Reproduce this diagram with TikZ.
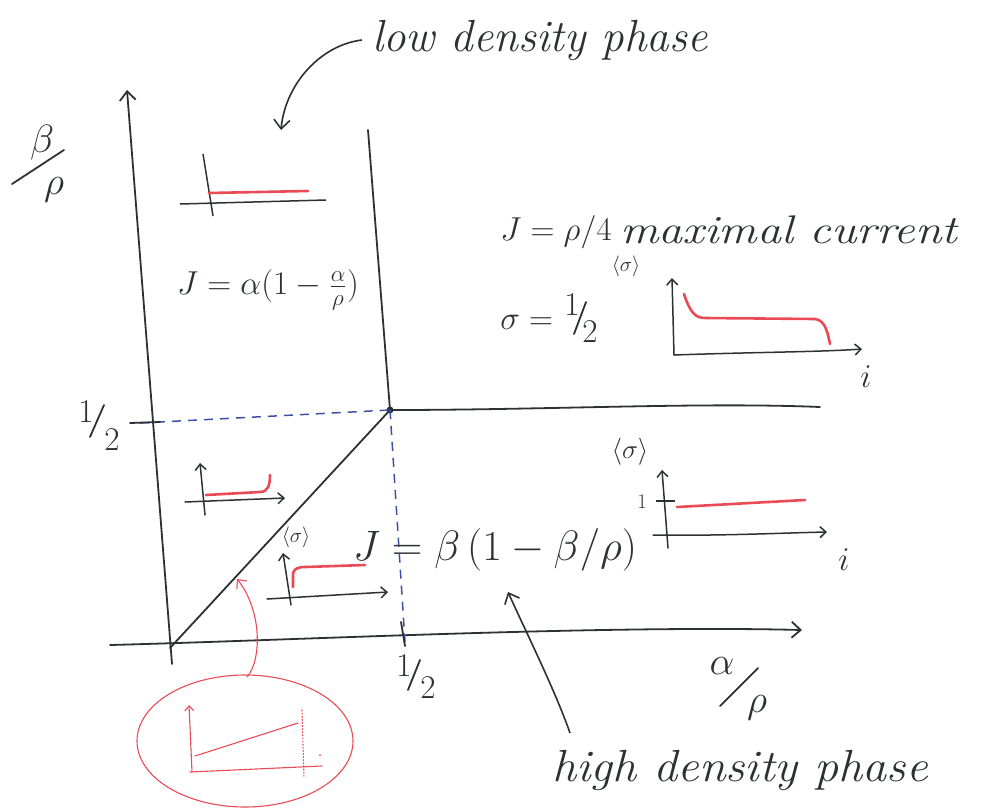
\documentclass[tikz,border=0pt]{standalone}
\usetikzlibrary{arrows.meta}
\definecolor{ink}{HTML}{2E3133}
\definecolor{redc}{HTML}{EA4A55}
\definecolor{bluec}{HTML}{3F4FA8}
\begin{document}
\begin{tikzpicture}[x=1pt,y=-1pt,
  ax/.style={draw=ink, line width=1.8pt, line cap=round},
  axarr/.style={ax, -{Straight Barb[length=9pt,width=16pt,line width=1.8pt]}},
  smarr/.style={draw=ink, line width=1.5pt, line cap=round, -{Straight Barb[length=6pt,width=11pt,line width=1.5pt]}},
  redl/.style={draw=redc, line width=2.6pt, line cap=round},
  redthin/.style={draw=redc, line width=1.1pt, line cap=round},
  bdash/.style={draw=bluec, line width=1.5pt, dash pattern=on 9pt off 7pt},
  base/.style={font=\fontsize{20}{24}\selectfont, inner sep=0pt, text=ink},
  huge/.style={base, scale=2.05},
  big/.style={base, scale=1.9},
  mid/.style={base, scale=1.6},
  hand/.style={font=\fontsize{45}{50}\selectfont\itshape, inner sep=0pt, text=ink},
  small/.style={base, scale=1.0}]
\useasboundingbox (0,0) rectangle (1000,811);
% key points
\coordinate (O) at (170,648);
\coordinate (C) at (390,410);
\coordinate (ytop) at (127,90);
\coordinate (xstart) at (110,645);
\coordinate (xend) at (802,630);
\coordinate (vtop) at (368,130);
\coordinate (hend) at (820,407);
\coordinate (bl) at (140,423);
\coordinate (bb) at (405,642);
% axes
\draw[axarr] (O) ++(2,16) -- (ytop);
\draw[axarr] (xstart) .. controls (300,640) and (600,625) .. (xend);
% phase boundaries
\draw[ax] (vtop) -- (C);
\draw[ax] (C) .. controls (550,410) and (700,402) .. (hend);
\draw[ax] (O) -- (C);
\fill[ink] (C) circle (3.5pt);
% dashed guides
\draw[bdash] (bl) -- (C);
\draw[bdash] (C) -- (bb);
% ticks
\draw[ax] (130,423) -- (160,422);
\draw[ax] (401,622) -- (405,646);
% axis labels
\node[big] (bnum) at (42,143) {$\beta$};
\node[big] (bden) at (54,190) {$\rho$};
\draw[ax] (12,184) -- (64,150);
\node[big] (anum) at (722,666) {$\alpha$};
\node[big] (aden) at (757,708) {$\rho$};
\draw[ax] (720,706) -- (758,668);
\node[mid] (y1) at (86,412) {$1$};
\node[mid] (y2) at (112,440) {$2$};
\draw[ax] (90,437) -- (104,405);
\node[mid] (x1) at (404,666) {$1$};
\node[mid] (x2) at (428,688) {$2$};
\draw[ax] (408,690) -- (420,660);
% phase names
\node[hand, anchor=west] (ld) at (372,40) {low density phase};
\draw[draw=ink, line width=1.6pt, -{Straight Barb[length=9pt,width=16pt,line width=1.6pt]}] (ld.west) ++(-10,0) .. controls (320,45) and (285,85) .. (281,130);
\node[hand, anchor=west, xscale=1.07] (hd) at (552,770) {high density phase};
\draw[draw=ink, line width=1.6pt, -{Straight Barb[length=9pt,width=16pt,line width=1.6pt]}] (570,733) .. controls (555,690) and (525,630) .. (508,592);
% currents
\node[mid] (jld) at (268,290) {$J=\alpha\bigl(1-\frac{\alpha}{\rho}\bigr)$};
\node[mid, anchor=west] (jmc) at (500,232) {$J=\rho/4$};
\node[hand, font=\fontsize{40}{44}\selectfont\itshape, anchor=west, xscale=1.2] (mcname) at (620,230) {maximal current};
\node[mid, anchor=west] (smc) at (500,322) {$\sigma=$};
\node[mid] (s1) at (572,305) {$1$};
\node[mid] (s2) at (590,332) {$2$};
\draw[ax] (574,334) -- (586,302);
\node[huge] (jhd) at (495,550) {$J=\beta\,(1-\beta/\rho)$};
% mini plot: low density (top)
\draw[draw=ink, line width=1.5pt] (203,154) -- (213,216);
\draw[draw=ink, line width=1.5pt] (180,204) -- (326,200);
\draw[redl] (209,193) -- (308,191);
% mini plot: maximal current
\node[small] (smcl) at (626,266) {$\langle\sigma\rangle$};
\draw[smarr] (674,355) -- (672,278);
\draw[smarr] (674,355) .. controls (760,352) and (820,352) .. (862,349);
\draw[redl] (684,294) .. controls (690,312) and (695,318) .. (705,318) -- (815,319) .. controls (826,320) and (828,335) .. (830,344);
\node[mid] (imc) at (866,377) {$i$};
% mini plot: high density (right)
\node[base, scale=1.3] (shdl) at (630,452) {$\langle\sigma\rangle$};
\draw[smarr] (668,548) -- (662,470);
\draw[draw=ink, line width=1.5pt] (656,501) -- (675,501);
\node[small] (one) at (642,502) {$1$};
\draw[smarr] (653,535) .. controls (720,536) and (780,533) .. (827,532);
\draw[redl] (677,507) -- (805,500);
\node[mid] (ihd) at (844,560) {$i$};
% mini plot: low density, above diagonal
\draw[smarr] (205,515) -- (200,463);
\draw[smarr] (185,502) -- (285,498);
\draw[redl] (206,495) -- (260,492) .. controls (268,492) and (270,485) .. (270,475);
% mini plot: high density, below diagonal
\node[small] (sdl) at (296,537) {$\langle\sigma\rangle$};
\draw[smarr] (291,605) -- (283,553);
\draw[smarr] (267,599) -- (388,592);
\draw[redl] (293,587) -- (293,575) .. controls (293,570) and (296,567) .. (305,567) -- (365,565);
% red blob with inset plot
\draw[redthin] (245,741) ellipse [x radius=108, y radius=66];
\draw[redthin, -{Straight Barb[length=7pt,width=13pt,line width=1.1pt]}] (247,677) .. controls (262,660) and (262,610) .. (237,579);
\draw[redthin, -{Straight Barb[length=5pt,width=9pt,line width=1.1pt]}] (192,772) -- (189,705);
\draw[redthin] (190,772) -- (322,766);
\draw[redthin] (195,756) -- (298,723);
\draw[redthin, dotted] (302,710) -- (304,778);
\fill[redc] (320,755) circle (1pt);
\end{tikzpicture}
\end{document}
